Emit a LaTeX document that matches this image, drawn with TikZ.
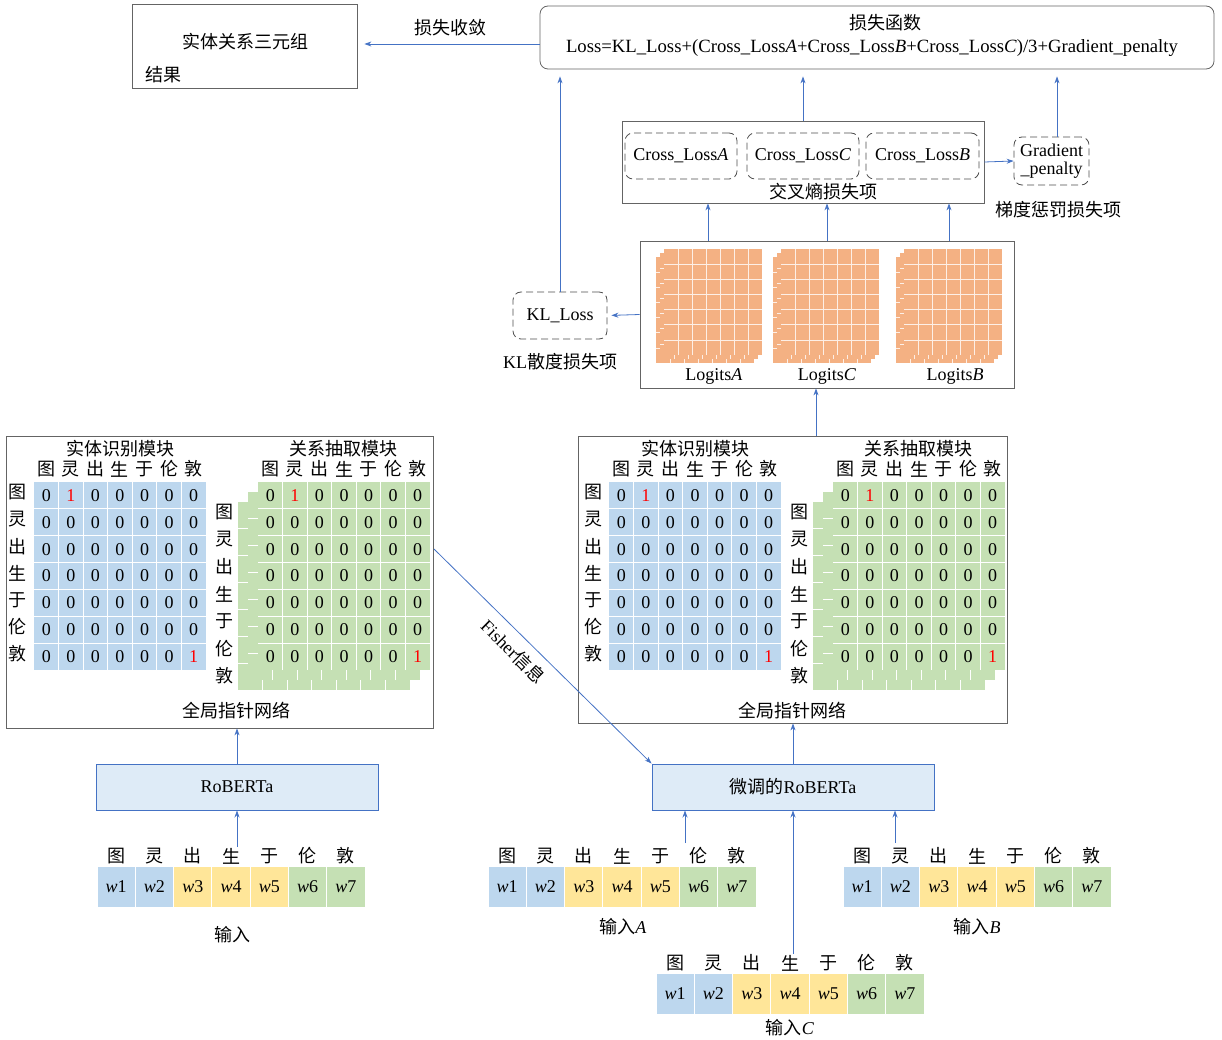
\documentclass[tikz,border=0pt]{standalone}
\usepackage{fontspec}
\setmainfont{Liberation Serif}
\newfontfamily\cjk{Noto Sans CJK SC}
\usetikzlibrary{arrows.meta, positioning}

\definecolor{lineblue}{RGB}{68,114,196}
\definecolor{cellblue}{RGB}{189,215,238}
\definecolor{cellgreen}{RGB}{197,224,180}
\definecolor{cellyellow}{RGB}{255,230,153}
\definecolor{cellorange}{RGB}{244,177,131}
\definecolor{boxblue}{RGB}{222,235,247}
\definecolor{framegray}{RGB}{100,100,100}

% value of a cell: 1 on (1,2) and (7,7), 0 elsewhere
\newcommand\cellval[2]{\ifnum#1#2=12 \textcolor{red}{1}\else\ifnum#1#2=77 \textcolor{red}{1}\else 0\fi\fi}

% one 7x7 layer, #1 colour, #2 left, #3 top
\newcommand\matlayer[3]{%
  \fill[#1] (#2,#3) rectangle ++(172,188);
  \foreach \k in {1,...,6}{
    \draw[gridw] ({#2+\k*24.57},#3) -- ++(0,188);
    \draw[gridw] (#2,{#3+\k*26.86}) -- ++(172,0);
  }}

% full matrix with digits, #1 name, #2 colour, #3 left, #4 top
\newcommand\digmat[4]{%
  \matlayer{#2}{#3}{#4}
  \foreach \r in {1,...,7}{
    \foreach \c in {1,...,7}{
      \node[digit] (#1-\r-\c) at ({#3+(\c-0.5)*24.57},{#4+(\r-0.5)*26.86}) {\cellval\r\c};
    }}}

% logits layer and stack
\newcommand\loglayer[2]{%
  \fill[cellorange] (#1,#2) rectangle ++(98,106);
  \foreach \k in {1,...,6}{
    \draw[gridw, line width=0.5pt, white!80!cellorange] ({#1+\k*14},#2) -- ++(0,106);
    \draw[gridw, line width=0.5pt, white!80!cellorange] (#1,{#2+\k*15.14}) -- ++(98,0);
  }}
\newcommand\logstack[2]{\loglayer{#1-8}{#2+8}\loglayer{#1-4}{#2+4}\loglayer{#1}{#2}}

% both modules of a global pointer net, #1 prefix, #2 shift
\newcommand\gpmods[2]{%
  \begin{scope}[xshift=#2pt]
    \node[cjkt] (#1-enttitle) at (120,449) {实体识别模块};
    \node[cjkt] (#1-reltitle) at (343,449) {关系抽取模块};
    \digmat{#1-ent}{cellblue}{34}{482}
    \matlayer{cellgreen}{238}{502}
    \matlayer{cellgreen}{248}{492}
    \digmat{#1-rel}{cellgreen}{258}{482}
    \foreach \h [count=\i] in {图,灵,出,生,于,伦,敦}{
      \node[cjkt, inner sep=0pt] (#1-eh\i) at ({34+(\i-0.5)*24.57},469) {\h};
      \node[cjkt, inner sep=0pt] (#1-rh\i) at ({258+(\i-0.5)*24.57},469) {\h};
      \node[cjkt, inner sep=0pt] (#1-er\i) at (18,{479+(\i-0.5)*26.86}) {\h};
      \node[cjkt, inner sep=0pt] (#1-rr\i) at (224,{512+(\i-1)*27.3}) {\h};
    }
  \end{scope}}

% input tokens, #1 prefix, #2 left, #3 top
\newcommand\tokrow[3]{%
  \foreach \h/\cl [count=\i] in {图/cellblue,灵/cellblue,出/cellyellow,生/cellyellow,于/cellyellow,伦/cellgreen,敦/cellgreen}{
    \node[tok, fill=\cl] (#1-\i) at ({#2+(\i-0.5)*38.3},{#3+20.5}) {\textit{w}\i};
    \node[cjkt, inner sep=1pt, above=0pt of #1-\i] (#1-h\i) {\h};
  }}

\begin{document}
\begin{tikzpicture}[
  x=1pt, y=-1pt,
  font=\fontsize{18}{20}\selectfont,
  cjkt/.style={font=\fontsize{18}{20}\selectfont\cjk},
  box/.style={draw=framegray, line width=0.8pt, inner sep=0pt},
  dbox/.style={draw=black!70, dash pattern=on 7pt off 4pt, rounded corners=8pt,
    line width=0.8pt, inner sep=0pt, align=center},
  robbox/.style={draw=lineblue, fill=boxblue, line width=1pt, inner sep=0pt,
    minimum width=282pt, minimum height=46pt},
  arr/.style={-{Stealth[length=7pt,width=5pt]}, draw=lineblue, line width=0.8pt},
  gridw/.style={white, line width=1pt},
  digit/.style={inner sep=0pt},
  tok/.style={draw=white, line width=1pt, inner sep=0pt,
    minimum width=38.3pt, minimum height=41pt}]
  \useasboundingbox (0,0) rectangle (1222,1040);

  % top row
  \node[box, minimum width=225pt, minimum height=84pt] (result) at (244.5,46) {};
  \node[cjkt] (resulttxt) at (245,42) {实体关系三元组};
  \node[cjkt] (resultlbl) at (163,75) {结果};
  \node[box, rounded corners=8pt, minimum width=674pt, minimum height=63pt] (loss) at (877,37.5) {};
  \node[cjkt] (losstitle) at (885,23) {损失函数};
  \node[font=\fontsize{18.7}{20}\selectfont] (lossformula) at (872,48) {Loss=KL\_Loss+(Cross\_Loss\textit{A}+Cross\_Loss\textit{B}+Cross\_Loss\textit{C})/3+Gradient\_penalty};
  \coordinate (conv) at (450,44);
  \draw[arr, shorten >=7pt] (loss.west |- conv) -- (result.east |- conv);
  \node[cjkt] (convlbl) at (450,28) {损失收敛};

  % loss terms
  \node[box, minimum width=362pt, minimum height=82pt] (cross) at (803,162) {};
  \node[dbox, minimum width=112pt, minimum height=46pt] (crossA) at (681,156) {Cross\_Loss\textit{A}};
  \node[dbox, minimum width=112pt, minimum height=46pt] (crossC) at (803,156) {Cross\_Loss\textit{C}};
  \node[dbox, minimum width=113pt, minimum height=46pt] (crossB) at (922.5,156) {Cross\_Loss\textit{B}};
  \node[cjkt] (crosslbl) at (823,192) {交叉熵损失项};
  \node[dbox, minimum width=75pt, minimum height=48pt, font=\fontsize{18}{18}\selectfont] (gp) at (1051.5,161) {Gradient\\\_penalty};
  \node[cjkt] (gplbl) at (1058,210) {梯度惩罚损失项};
  \draw[arr] (cross.east) -- (gp.west);

  \node[dbox, minimum width=94pt, minimum height=47pt] (kl) at (560,315.5) {KL\_Loss};
  \node (kllbl) at (560,362) {KL{\cjk 散度损失项}};

  \draw[arr, shorten >=7pt] (kl.north) -- (kl.north |- loss.south);
  \draw[arr, shorten >=7pt] (cross.north) -- (cross.north |- loss.south);
  \draw[arr, shorten >=7pt] (gp.north -| 1057,0) -- (loss.south -| 1057,0);

  % logits
  \node[box, minimum width=374pt, minimum height=147pt] (logits) at (827,314.5) {};
  \logstack{664}{249}
  \logstack{781}{249}
  \logstack{904}{249}
  \node (logA) at (714,376) {Logits\textit{A}};
  \node (logC) at (827,376) {Logits\textit{C}};
  \node (logB) at (955,376) {Logits\textit{B}};
  \foreach \xx in {708,827,949}
    \draw[arr] (logits.north -| \xx,0) -- (cross.south -| \xx,0);
  \draw[arr, shorten >=4pt] (logits.west) -- (kl.east);

  % global pointer nets
  \node[box, minimum width=427pt, minimum height=292pt] (gp1) at (219.5,582) {};
  \node[box, minimum width=429pt, minimum height=287pt] (gp2) at (792.5,579.5) {};
  \gpmods{L}{0}
  \gpmods{R}{575}
  \node[cjkt] (gp1lbl) at (236,711) {全局指针网络};
  \node[cjkt] (gp2lbl) at (792,711) {全局指针网络};
  \draw[arr] (gp2.north -| 816,0) -- (logits.south -| 816,0);

  % encoders
  \node[robbox] (rob1) at (237,787) {RoBERTa};
  \node[robbox] (rob2) at (793,787) {{\cjk 微调的}RoBERTa};
  \draw[arr] (rob1.north) -- (rob1.north |- gp1.south);
  \draw[arr] (rob2.north) -- (rob2.north |- gp2.south);
  \coordinate (fisher) at (434,549);
  \draw[arr] (fisher) -- node[pos=0.42, sloped, below=5pt] (fisherlbl) {Fisher{\cjk 信息}} (rob2.north west);

  % inputs
  \tokrow{in0}{97}{866}
  \tokrow{inA}{488}{866}
  \tokrow{inB}{843}{866}
  \tokrow{inC}{656}{973}
  \node[cjkt] (in0lbl) at (232,935) {输入};
  \node (inAlbl) at (623,927) {{\cjk 输入}\textit{A}};
  \node (inBlbl) at (977,927) {{\cjk 输入}\textit{B}};
  \node (inClbl) at (790,1028) {{\cjk 输入}\textit{C}};
  \draw[arr] (rob1.south |- in0-h4.north) -- (rob1.south);
  \coordinate (inAup) at (685,843);
  \coordinate (inBup) at (895,843);
  \draw[arr] (inAup) -- (inAup |- rob2.south);
  \draw[arr] (inBup) -- (inBup |- rob2.south);
  \draw[arr] (rob2.south |- inC-h4.north) -- (rob2.south);
\end{tikzpicture}
\end{document}
